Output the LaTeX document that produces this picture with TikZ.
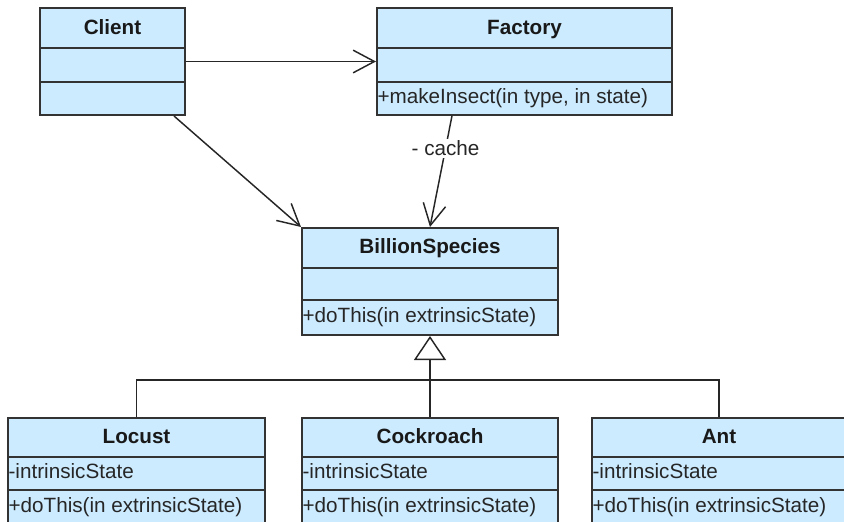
\documentclass[tikz,border=0pt]{standalone}
\usepackage{fontspec}
\setmainfont{Liberation Sans}
\usetikzlibrary{arrows.meta,fit}
\definecolor{clsfill}{HTML}{CCEBFF}
\definecolor{clsline}{HTML}{333333}
\begin{document}
\begin{tikzpicture}[x=0.75pt,y=-0.75pt,
  cls/.style={draw=clsline, fill=clsfill, line width=1.5pt, inner sep=0pt, rectangle},
  div/.style={draw=clsline, line width=1.5pt},
  title/.style={font=\fontsize{15.5}{18}\selectfont\bfseries, inner sep=0pt, anchor=base, text=black!90},
  member/.style={font=\fontsize{15.5}{18}\selectfont, inner sep=0pt, anchor=base west, text=black!85},
  conn/.style={draw=black!85, line width=1.1pt},
  openarr/.style={-{Straight Barb[length=16pt,width=17pt,line width=1.1pt]}},
  inherit/.style={-{Triangle[length=18pt,width=24pt,fill=white,line width=1.1pt]}}]
\useasboundingbox (0,0) rectangle (844,522);
\clip (0,0) rectangle (844,522);

% boxes
\node[cls, fit={(40,8) (185,115)}] (client) {};
\node[cls, fit={(377,8) (672,115)}] (factory) {};
\node[cls, fit={(302,228) (558,335)}] (bs) {};
\node[cls, fit={(8,418) (265,540)}] (locust) {};
\node[cls, fit={(302,418) (558,540)}] (cockroach) {};
\node[cls, fit={(592,418) (846,540)}] (ant) {};

% dividers
\foreach \n/\a/\b in {client/48/82, factory/48/82, bs/268/300, locust/457/490, cockroach/457/490, ant/457/490}{
  \draw[div] (\n.west |- 0,\a) -- (\n.east |- 0,\a);
  \draw[div] (\n.west |- 0,\b) -- (\n.east |- 0,\b);
}

% titles
\node[title] (tclient) at (client.north |- 0,34) {Client};
\node[title] (tfactory) at (factory.north |- 0,34) {Factory};
\node[title] (tbs) at (bs.north |- 0,253) {BillionSpecies};
\node[title] (tlocust) at (locust.north |- 0,443) {Locust};
\node[title] (tcock) at (cockroach.north |- 0,443) {Cockroach};
\node[title] (tant) at (ant.north |- 0,443) {Ant};

% members
\node[member] (mfactory) at ([xshift=1pt]factory.west |- 0,103) {+makeInsect(in type, in state)};
\node[member] (mbs) at ([xshift=1pt]bs.west |- 0,322) {+doThis(in extrinsicState)};
\node[member] (alocust) at ([xshift=1pt]locust.west |- 0,478) {-intrinsicState};
\node[member] (mlocust) at ([xshift=1pt]locust.west |- 0,512) {+doThis(in extrinsicState)};
\node[member] (acock) at ([xshift=1pt]cockroach.west |- 0,478) {-intrinsicState};
\node[member] (mcock) at ([xshift=1pt]cockroach.west |- 0,512) {+doThis(in extrinsicState)};
\node[member] (aant) at ([xshift=1pt]ant.west |- 0,478) {-intrinsicState};
\node[member] (mant) at ([xshift=1pt]ant.west |- 0,512) {+doThis(in extrinsicState)};

% connectors
\draw[conn, openarr] (client.east) -- (factory.west);
\draw[conn, openarr] ([xshift=-9pt]client.south east) -- (bs.north west);
\draw[conn, openarr] ([xshift=-54.4pt]factory.south) -- (bs.north)
  node[pos=0.29, fill=white, inner sep=1.5pt, font=\fontsize{15.5}{18}\selectfont, text=black!85] (cache) {- cache};

\coordinate (junc) at (430,380);
\draw[conn] (locust.north) |- (junc) -| (ant.north);
\draw[conn, inherit, line width=1.6pt] (cockroach.north) -- (bs.south);
\end{tikzpicture}
\end{document}
